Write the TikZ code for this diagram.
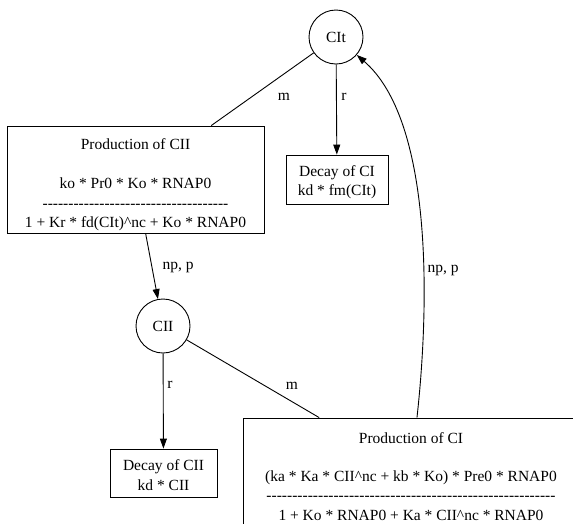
\documentclass[tikz,border=0pt]{standalone}
\usepackage{fontspec}
\newfontfamily\timesfont{LiberationSerif-Regular.ttf}
\usetikzlibrary{arrows.meta}
\newcommand\hyphrow[1]{\foreach \i in {1,...,#1}{-\kern0pt}}
\newcommand\toppad[1]{\rule{0pt}{#1}}
\begin{document}
\begin{tikzpicture}[x=1pt,y=-1pt,
  every node/.style={font=\timesfont\fontsize{15.5}{19.5}\selectfont, inner sep=0pt},
  species/.style={draw, circle, minimum size=54pt, line width=0.9pt},
  procbox/.style={draw, rectangle, align=center, line width=0.9pt},
  conn/.style={line width=0.9pt},
  arr/.style={conn, -{Triangle[length=10pt,width=7pt]}},
  lbl/.style={}
]
\clip (0,0) rectangle (573,523);
\node[species] (cit) at (336,37) {CIt};
\node[procbox, minimum width=257pt, minimum height=107pt] (p2) at (135.5,179.5)
  {\toppad{21pt}Production of CII\\[20pt] ko * Pr0 * Ko * RNAP0\\ \hyphrow{36}\\ 1 + Kr * fd(CIt)\textasciicircum nc + Ko * RNAP0};
\node[procbox, minimum width=102pt, minimum height=49pt] (d1) at (337,179.5)
  {\toppad{16pt}Decay of CI\\ kd * fm(CIt)};
\node[species] (cii) at (163,326) {CII};
\node[procbox, minimum width=107pt, minimum height=48pt] (d2) at (163.5,473)
  {\toppad{15pt}Decay of CII\\ kd * CII};
\node[procbox, minimum width=336pt, minimum height=107pt] (p1) at (411,471.5)
  {\toppad{21pt}Production of CI\\[18pt] (ka * Ka * CII\textasciicircum nc + kb * Ko) * Pre0 * RNAP0\\ \hyphrow{56}\\ 1 + Ko * RNAP0 + Ka * CII\textasciicircum nc * RNAP0};

\draw[conn] (cit) -- (p2);
\draw[arr] (cit) -- (d1);
\draw[arr] (p2) -- (cii);
\draw[arr] (cii) -- (d2);
\draw[conn] (cii) -- (p1);
\draw[arr] (p1) .. controls (430,300) and (432,120) .. (cit);

\node[lbl] (lm1) at (284,97) {m};
\node[lbl] (lr1) at (344,97) {r};
\node[lbl] (lnp1) at (178,267) {np, p};
\node[lbl] (lr2) at (170,385) {r};
\node[lbl] (lm2) at (292,386) {m};
\node[lbl] (lnp2) at (443,270) {np, p};
\end{tikzpicture}
\end{document}
